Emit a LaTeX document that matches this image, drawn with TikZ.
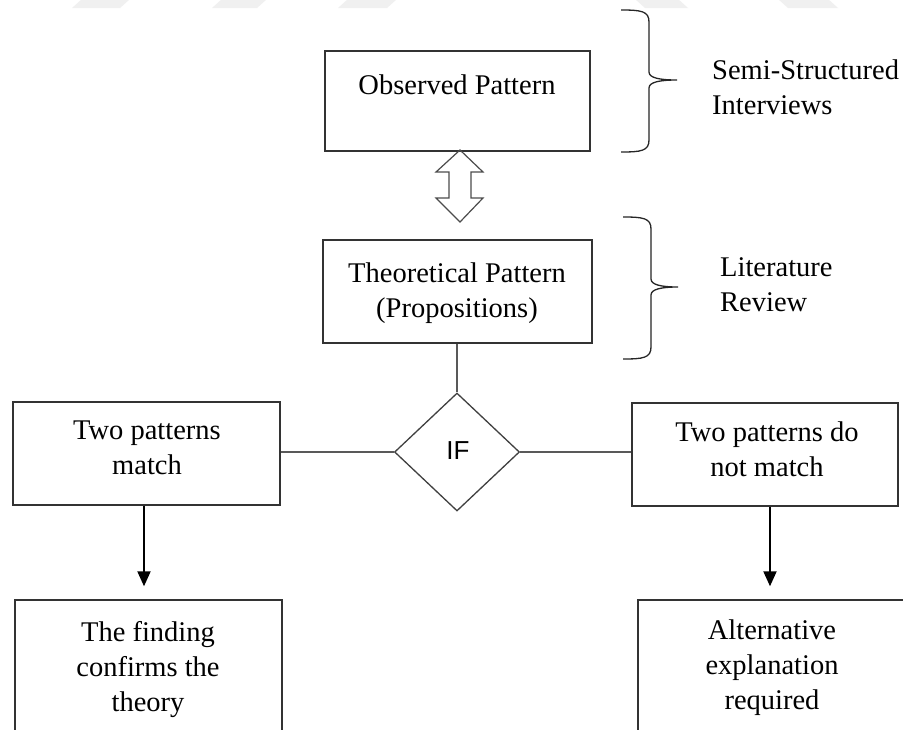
\documentclass[tikz,border=0pt]{standalone}
\usepackage{fontspec}
\setmainfont{Liberation Serif}
\newfontfamily\ifsans{Liberation Sans}
\usetikzlibrary{shapes.geometric,arrows.meta}

\begin{document}
\begin{tikzpicture}[x=1pt,y=-1pt,
  frame/.style={draw=black!80,line width=1.4pt,inner sep=0pt},
  txt/.style={font=\fontsize{28.5}{35}\selectfont,align=center,inner sep=0pt},
  sidetxt/.style={font=\fontsize{28.5}{35}\selectfont,align=left,inner sep=0pt,anchor=west},
  link/.style={draw=black!65,line width=1.3pt},
  arr/.style={draw=black,line width=2pt,-{Triangle[length=15pt,width=13pt]}},
  curly/.style={draw=black!85,line width=1.3pt},
  bandpiece/.style={fill=black!6,draw=none}]

% page
\fill[white] (0,0) rectangle (903,729);
\useasboundingbox (0,0) rectangle (903,729);

% faint band along the top edge
\fill[bandpiece] (72,8) -- (120,8) -- (130,-1) -- (82,-1) -- cycle;
\fill[bandpiece] (212,8) -- (257,8) -- (267,-1) -- (222,-1) -- cycle;
\fill[bandpiece] (338,8) -- (387,8) -- (397,-1) -- (348,-1) -- cycle;
\fill[bandpiece] (645,8) -- (688,8) -- (678,-1) -- (635,-1) -- cycle;
\fill[bandpiece] (788,8) -- (838,8) -- (828,-1) -- (778,-1) -- cycle;

% boxes
\node[frame,minimum width=265pt,minimum height=100pt] (obs) at (457.5,101) {};
\node[frame,minimum width=269pt,minimum height=103pt] (theo) at (457.5,291.5) {};
\node[frame,minimum width=267pt,minimum height=103pt] (match) at (146.5,453.5) {};
\node[frame,minimum width=266pt,minimum height=103pt] (nomatch) at (765,454.5) {};
\node[frame,minimum width=267pt,minimum height=160pt] (confirm) at (148.5,680) {};
\node[frame,minimum width=268pt,minimum height=160pt] (altern) at (772,680) {};
\node[draw=black!75,line width=1.3pt,diamond,inner sep=0pt,
      minimum width=125pt,minimum height=118pt] (if) at (457,452) {};

% box texts
\node[txt] (obs-t) at (457,85) {Observed Pattern};
\node[txt] (theo-t) at (457,293) {Theoretical Pattern\\(Propositions)};
\node[txt] (match-t) at (147,448) {Two patterns\\match};
\node[txt] (nomatch-t) at (767,449) {Two patterns do\\not match};
\node[txt] (confirm-t) at (148,670) {The finding\\confirms the\\theory};
\node[txt] (altern-t) at (772,668) {Alternative\\explanation\\required};
\node[font=\ifsans\fontsize{26}{30}\selectfont,inner sep=0pt] (if-t) at (458,451) {IF};

% side labels
\node[sidetxt] (semi) at (712,87) {Semi-Structured\\Interviews};
\node[sidetxt] (lit) at (720,285) {Literature\\Review};

% two-way arrow between the patterns
\draw[draw=black!70,line width=1.2pt,line join=miter]
  (460,150) -- (483,172) -- (471,172) -- (471,198) -- (483,198) -- (460,222)
  -- (436,198) -- (449,198) -- (449,172) -- (436,172) -- cycle;

% braces
\draw[curly] (621,10) .. controls (641,10) and (649,11) .. (649,22) -- (649,72)
  .. controls (649,78) and (660,80) .. (677,80)
  .. controls (660,80) and (649,82) .. (649,88) -- (649,140)
  .. controls (649,151) and (641,152) .. (621,152);
\draw[curly] (623,217) .. controls (643,217) and (651,218) .. (651,229) -- (651,279)
  .. controls (651,285) and (662,287) .. (678,287)
  .. controls (662,287) and (651,289) .. (651,295) -- (651,347)
  .. controls (651,358) and (643,359) .. (623,359);

% connectors
\coordinate (lx) at (144,0);
\coordinate (rx) at (770,0);
\draw[link] (if.north |- theo.south) -- (if.north);
\draw[link] (if.west -| match.east) -- (if.west);
\draw[link] (if.east) -- (if.east -| nomatch.west);
\draw[arr,shorten >=13pt] (match.south -| lx) -- (confirm.north -| lx);
\draw[arr,shorten >=13pt] (nomatch.south -| rx) -- (altern.north -| rx);
\end{tikzpicture}
\end{document}
